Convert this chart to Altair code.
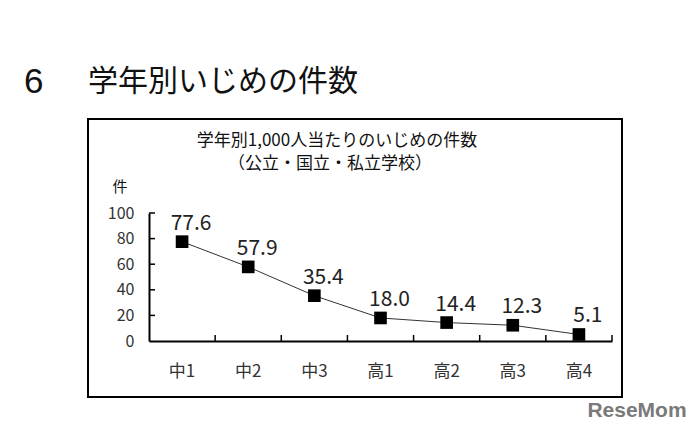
import altair as alt
import pandas as pd

grades = ["中1", "中2", "中3", "高1", "高2", "高3", "高4"]
counts = [77.6, 57.9, 35.4, 18.0, 14.4, 12.3, 5.1]
count_labels = ["77.6", "57.9", "35.4", "18.0", "14.4", "12.3", "5.1"]
y_ticks = [0, 20, 40, 60, 80, 100]

heading_num = "6"
heading_text = "学年別いじめの件数"
chart_title = "学年別1,000人当たりのいじめの件数"
chart_subtitle = "（公立・国立・私立学校）"
unit_label = "件"
watermark = "ReseMom"

W, H = 463, 128
JP = "Noto Sans CJK JP"

df = pd.DataFrame({"grade": grades, "count": counts, "label": count_labels})
ticks_df = pd.DataFrame({"count": y_ticks[1:]})

xscale = alt.Scale(domain=grades, paddingInner=0, paddingOuter=0)
yscale = alt.Scale(domain=[0, 100], nice=False)

x_axis = alt.Axis(title=None, labelAngle=0, ticks=False, tickSize=0,
                  domainColor="black", domainWidth=2,
                  labelFont=JP, labelFontSize=17, labelColor="#333",
                  labelPadding=22, grid=False)
y_axis = alt.Axis(title=None, values=y_ticks, ticks=False, tickSize=0,
                  domainColor="black", domainWidth=2, labelOverlap=False,
                  labelFont=JP, labelFontSize=16, labelColor="#333",
                  labelPadding=15, grid=False)

x_enc = alt.X("grade:N", scale=xscale, sort=grades, axis=x_axis)
y_enc = alt.Y("count:Q", scale=yscale, axis=y_axis)

base = alt.Chart(df)

line = base.mark_line(color="#333", strokeWidth=1).encode(x=x_enc, y=y_enc)
points = base.mark_square(size=160, color="black", opacity=1, filled=True).encode(
    x=x_enc, y=y_enc)
labels = base.mark_text(font=JP, fontSize=21, color="#222", baseline="alphabetic",
                        dx=9, dy=-12).encode(x=x_enc, y=y_enc, text="label:N")

xticks = base.mark_rule(color="black", strokeWidth=1.5).encode(
    x=alt.X("grade:N", scale=xscale, sort=grades, bandPosition=1, axis=x_axis),
    y=alt.value(H - 6), y2=alt.value(H))

yticks = alt.Chart(ticks_df).mark_rule(color="black", strokeWidth=1.5).encode(
    y=y_enc, x=alt.value(0), x2=alt.value(6))

frame = alt.Chart(pd.DataFrame({"a": [0]})).mark_rect(
    fill=None, stroke="black", strokeWidth=2).encode(
    x=alt.value(-61), x2=alt.value(473), y=alt.value(-94), y2=alt.value(184))


def txt(s, x, y, size, align="center", color="#111", font=JP, weight="normal"):
    return alt.Chart(pd.DataFrame({"t": [s]})).mark_text(
        font=font, fontSize=size, align=align, baseline="middle",
        color=color, fontWeight=weight).encode(
        x=alt.value(x), y=alt.value(y), text="t:N")


texts = [
    txt(heading_num, -125, -131, 35, align="left", font="Liberation Sans"),
    txt(heading_text, -61, -131, 30, align="left"),
    txt(chart_title, 188, -72, 17),
    txt(chart_subtitle, 181, -49, 17),
    txt(unit_label, -29, -26, 15),
    txt(watermark, 488, 198, 21, color="#7a7a7a", font="Liberation Sans", weight="bold"),
]

chart = alt.layer(frame, line, xticks, yticks, points, labels, *texts).properties(
    width=W, height=H,
    autosize=alt.AutoSizeParams(type="none"),
    padding={"left": 141, "top": 205, "right": 80, "bottom": 83},
    background="white",
).configure_view(stroke=None)

chart.save("out.html", embed_options={"renderer": "svg", "actions": False})
